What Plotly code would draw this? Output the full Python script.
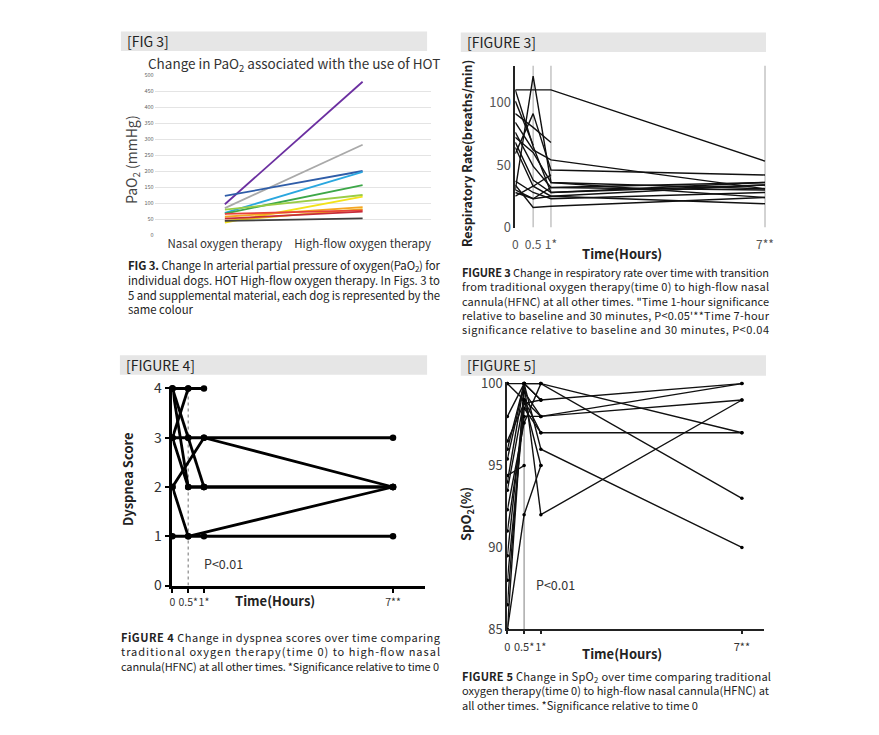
import json
import plotly.graph_objects as go

W, H = 879, 735

# ---------------- FIG 3 : PaO2 ----------------
pao2_categories = ["Nasal oxygen therapy", "High-flow oxygen therapy"]
pao2_nasal = [97, 85, 123, 70, 68, 80, 40, 58, 45, 67, 52, 45]
pao2_high_flow = [480, 283, 201, 198, 157, 126, 121, 88, 82, 78, 74, 53]
pao2_colors = ["#6b2fa0", "#a9a9a9", "#2f5da8", "#2aa7df", "#3da748", "#9acd45",
               "#f2e21a", "#f5a623", "#f0c419", "#e8413c", "#c62c3a", "#404040"]
pao2_yticks = [0, 50, 100, 150, 200, 250, 300, 350, 400, 450, 500]

# ---------------- FIGURE 3 : respiratory rate ----------------
rr_times = [0, 0.5, 1, 7]
rr_ticktext = ["0", "0.5", "1*", "7**"]
rr_yticks = [0, 50, 100]
rr_dog_01 = [110, 110, 110, 53]
rr_dog_02 = [30, 121, 36, 31]
rr_dog_03 = [91, 80, 68, None]
rr_dog_04 = [59, 91, 46, 42]
rr_dog_05 = [110, 65, 28, 34]
rr_dog_06 = [84, 62, 54, 31]
rr_dog_07 = [76, 49, 32, 30]
rr_dog_08 = [72, 60, 36, 24]
rr_dog_09 = [68, 38, 28, 36]
rr_dog_10 = [64, 33, 25, 34]
rr_dog_11 = [37, 28, 23, 28]
rr_dog_12 = [34, 16, 17, 24]
rr_dog_13 = [30, 23, 25, 19]
rr_dog_14 = [28, 23, 32, 36]
rr_dog_15 = [25, 33, 42, None]
rr_dog_16 = [101, 66, None, None]
rr_dogs = [rr_dog_01, rr_dog_02, rr_dog_03, rr_dog_04, rr_dog_05, rr_dog_06, rr_dog_07, rr_dog_08,
           rr_dog_09, rr_dog_10, rr_dog_11, rr_dog_12, rr_dog_13, rr_dog_14, rr_dog_15, rr_dog_16]

# ---------------- FIGURE 4 : dyspnea score ----------------
ds_times = [0, 0.5, 1, 7]
ds_ticktext = ["0", "0.5*", "1*", "7**"]
ds_yticks = [0, 1, 2, 3, 4]
ds_dog_1 = [4, 4, 4, None]
ds_dog_2 = [4, 2, 2, 2]
ds_dog_3 = [4, 3, 2, None]
ds_dog_4 = [3, 4, None, None]
ds_dog_5 = [2, None, 3, 2]
ds_dog_6 = [2, 1, None, 2]
ds_dog_7 = [3, 3, 3, 3]
ds_dog_8 = [1, 1, 1, 1]
ds_dog_9 = [3, 2, 2, 2]
ds_dogs = [ds_dog_1, ds_dog_2, ds_dog_3, ds_dog_4, ds_dog_5, ds_dog_6, ds_dog_7, ds_dog_8, ds_dog_9]
ds_connect = [False, False, False, False, True, True, False, False, False]

# ---------------- FIGURE 5 : SpO2 ----------------
sp_times = [0, 0.5, 1, 7]
sp_ticktext = ["0", "0.5*", "1*", "7**"]
sp_yticks = [85, 90, 95, 100]
sp_dog_01 = [100, 100, 100, 97]
sp_dog_02 = [85, 100, 99, 100]
sp_dog_03 = [86.5, 99.5, 98, 99]
sp_dog_04 = [88, 98.5, 97, 97]
sp_dog_05 = [94, 100, 96, 90]
sp_dog_06 = [98, 100, 92, 99]
sp_dog_07 = [96, 100, 100, 93]
sp_dog_08 = [94.4, 95, None, None]
sp_dog_09 = [93.5, 99, 95, None]
sp_dog_10 = [91, 98, 98, 100]
sp_dog_11 = [92.3, 97.6, 100, None]
sp_dog_12 = [96.5, 98.8, 99, None]
sp_dog_13 = [85, 92, 95, None]
sp_dog_14 = [89.5, 99, 97, None]
sp_dog_15 = [95.4, 100, 99, None]
sp_dog_16 = [100, 99, 98, None]
sp_dogs = [sp_dog_01, sp_dog_02, sp_dog_03, sp_dog_04, sp_dog_05, sp_dog_06, sp_dog_07, sp_dog_08,
           sp_dog_09, sp_dog_10, sp_dog_11, sp_dog_12, sp_dog_13, sp_dog_14, sp_dog_15, sp_dog_16]


def dx(a, b):
    return [a / W, b / W]


def dy(top, bottom):
    return [1 - bottom / H, 1 - top / H]


FONT = "Noto Sans CJK KR, Noto Sans, sans-serif"
fig = go.Figure()

for i, (a, b) in enumerate(zip(pao2_nasal, pao2_high_flow)):
    fig.add_trace(go.Scatter(x=pao2_categories, y=[a, b], mode="lines",
                             line=dict(color=pao2_colors[i], width=1.8),
                             xaxis="x", yaxis="y", name=f"Dog {i+1}"))

for i, d in enumerate(rr_dogs):
    fig.add_trace(go.Scatter(x=rr_times, y=d, mode="lines",
                             line=dict(color="#111111", width=1.4),
                             xaxis="x2", yaxis="y2", name=f"Dog {i+1}"))

for i, d in enumerate(ds_dogs):
    fig.add_trace(go.Scatter(x=ds_times, y=d, mode="lines+markers", connectgaps=ds_connect[i],
                             line=dict(color="#000000", width=2.8),
                             marker=dict(color="#000000", size=6.5), cliponaxis=False,
                             xaxis="x3", yaxis="y3", name=f"Dog {i+1}"))

for i, d in enumerate(sp_dogs):
    fig.add_trace(go.Scatter(x=sp_times, y=d, mode="lines+markers",
                             line=dict(color="#111111", width=1.4),
                             marker=dict(color="#000000", size=3.5), cliponaxis=False,
                             xaxis="x4", yaxis="y4", name=f"Dog {i+1}"))

shapes = []
for (x0, y0, x1, y1) in [(119, 23, 428, 43), (462, 24, 770, 44), (118, 355, 428, 375), (462, 355, 770, 376)]:
    shapes.append(dict(type="rect", xref="paper", yref="paper", x0=x0 / W, x1=x1 / W,
                       y0=1 - y1 / H, y1=1 - y0 / H, fillcolor="#e6e6e6", line=dict(width=0), layer="below"))

for t in [0.5, 1, 7]:
    shapes.append(dict(type="line", xref="x2", yref="y2", x0=t, x1=t, y0=0, y1=129.4,
                       line=dict(color="#b5b5b5", width=1.2), layer="below"))
shapes.append(dict(type="line", xref="x3", yref="y3", x0=0.5, x1=0.5, y0=0, y1=4,
                   line=dict(color="#888888", width=1.2, dash="dot"), layer="below"))
shapes.append(dict(type="line", xref="x4", yref="y4", x0=0.5, x1=0.5, y0=85, y1=100,
                   line=dict(color="#aaaaaa", width=1.5), layer="below"))

ann = []
justify = {}


def text(px, py, s, size, color="#222", bold=False, xanchor="center", yanchor="middle", angle=0,
         widths=None):
    if bold:
        s = f"<b>{s}</b>"
    if widths is not None:
        justify[str(len(ann))] = widths
    ann.append(dict(x=px / W, y=1 - py / H, xref="paper", yref="paper", text=s, showarrow=False,
                    font=dict(family=FONT, size=size, color=color), xanchor=xanchor, yanchor=yanchor,
                    textangle=angle, align="left" if xanchor == "left" else "center", borderpad=0))


def caption(px, py_first, spacing, lines):
    size = spacing / 1.3
    n = len(lines)
    center = py_first + spacing * (n - 1) / 2
    text(px, center, "<br>".join(s for s, _ in lines), size, "#222", xanchor="left",
         widths=[w for _, w in lines])


# headers
text(124, 33, "[FIG 3]", 14, "#222", xanchor="left")
text(467, 34, "[FIGURE 3]", 14, "#222", xanchor="left")
text(123, 365, "[FIGURE 4]", 14, "#222", xanchor="left")
text(467, 365, "[FIGURE 5]", 14, "#222", xanchor="left")

# panel 1 texts
text(294, 56, "Change in PaO<sub>2</sub> associated with the use of HOT", 13.5, "#333")
text(130, 154, "PaO<sub>2</sub> (mmHg)", 14, "#444", angle=-90)

# panel 2 texts
text(625, 251, "Time(Hours)", 13, "#222", bold=True)
text(468, 148, "Respiratory Rate(breaths/min)", 12.5, "#222", bold=True, angle=-90)

# panel 3 texts
text(275, 606, "Time(Hours)", 13, "#222", bold=True)
text(125, 482, "Dyspnea Score", 13, "#222", bold=True, angle=-90)
text(223, 568, "P&lt;0.01", 12.5, "#333")

# panel 4 texts
text(625, 661, "Time(Hours)", 13, "#222", bold=True)
text(468, 518, "SpO<sub>2</sub>(%)", 13, "#222", bold=True, angle=-90)
text(558, 590, "P&lt;0.01", 12.5, "#333")

caption(125, 262.5, 14.8, [
    ("<b>FIG 3.</b> Change In arterial partial pressure of oxygen(PaO<sub>2</sub>) for", 312),
    ("individual dogs. HOT High-flow oxygen therapy. In Figs. 3 to", 312),
    ("5 and supplemental material, each dog is represented by the", 312),
    ("same colour", None)])

caption(462, 270.5, 14.3, [
    ("<b>FIGURE 3</b> Change in respiratory rate over time with transition", 307),
    ("from traditional oxygen therapy(time 0) to high-flow nasal", 307),
    ("cannula(HFNC) at all other times. \"Time 1-hour significance", 307),
    ("relative to baseline and 30 minutes, P&lt;0.05'**Time 7-hour", 307),
    ("significance relative to baseline and 30 minutes, P&lt;0.04", 307)])

caption(118, 644, 14.3, [
    ("<b>FiGURE 4</b> Change in dyspnea scores over time comparing", 319),
    ("traditional oxygen therapy(time 0) to high-flow nasal", 319),
    ("cannula(HFNC) at all other times. *Significance relative to time 0", 318)])

caption(462, 684, 14.4, [
    ("<b>FIGURE 5</b> Change in SpO<sub>2</sub> over time comparing traditional", 309),
    ("oxygen therapy(time 0) to high-flow nasal cannula(HFNC) at", 307),
    ("all other times. *Significance relative to time 0", None)])

tickfont = dict(family=FONT, color="#444")

fig.update_layout(
    width=W, height=H, margin=dict(l=0, r=0, t=0, b=0),
    paper_bgcolor="white", plot_bgcolor="white", showlegend=False,
    shapes=shapes, annotations=ann,
    xaxis=dict(domain=dx(153, 432), anchor="y", type="category", range=[-0.51, 1.497], showgrid=False,
               showline=False, zeroline=False, tickangle=0, tickfont=dict(tickfont, size=11.5, color="#333")),
    yaxis=dict(domain=dy(68, 232), anchor="x", range=[0, 500], tickvals=pao2_yticks, showgrid=True,
               gridcolor="#e4e4e4", gridwidth=1, zeroline=False, showline=False,
               tickfont=dict(tickfont, size=5.5, color="#666")),
    xaxis2=dict(domain=dx(517, 772.6), anchor="y2", range=[0, 7.1], tickvals=rr_times, ticktext=rr_ticktext,
                showgrid=False, zeroline=False, showline=False, ticklabelstandoff=8, tickangle=0,
                tickfont=dict(tickfont, size=12, color="#555")),
    yaxis2=dict(domain=dy(58, 224), anchor="x2", range=[0, 129.4], tickvals=rr_yticks, showgrid=False,
                zeroline=False, showline=True, linecolor="#222", linewidth=1.5,
                tickfont=dict(tickfont, size=13, color="#555")),
    xaxis3=dict(domain=dx(171, 425.4), anchor="y3", range=[0, 8.0], tickvals=ds_times, ticktext=ds_ticktext,
                showgrid=False, zeroline=False, showline=True, linecolor="#000", linewidth=2.5,
                ticks="outside", ticklen=5, tickwidth=2, tickcolor="#000", tickangle=0,
                tickfont=dict(tickfont, size=10.5, color="#333")),
    yaxis3=dict(domain=dy(387, 591), anchor="x3", range=[0, 4.04], tickvals=ds_yticks, showgrid=False,
                zeroline=False, showline=True, linecolor="#000", linewidth=2.5,
                ticks="outside", ticklen=5, tickwidth=2, tickcolor="#000",
                tickfont=dict(tickfont, size=14, color="#333")),
    xaxis4=dict(domain=dx(509, 768), anchor="y4", range=[0, 7.66], tickvals=sp_times, ticktext=sp_ticktext,
                showgrid=False, zeroline=False, showline=True, linecolor="#222", linewidth=2,
                ticks="outside", ticklen=3, tickwidth=1.5, tickcolor="#222", tickangle=0,
                ticklabelstandoff=3, tickfont=dict(tickfont, size=11, color="#333")),
    yaxis4=dict(domain=dy(382, 636), anchor="x4", range=[85, 100.12], tickvals=sp_yticks, showgrid=False,
                zeroline=False, showline=True, linecolor="#222", linewidth=2,
                tickfont=dict(tickfont, size=13, color="#444")),
)

post = """
document.body.style.margin='0';
var JUST = %s;
function justifyCaptions(){
  document.querySelectorAll('g.annotation').forEach(function(g){
    var i = g.getAttribute('data-index');
    var ws = JUST[i];
    if (ws === undefined) { return; }
    var t = g.querySelector('text.annotation-text');
    if (!t) { return; }
    var lines = t.querySelectorAll('tspan.line');
    lines.forEach(function(ln, k){
      if (ws[k] !== null && ws[k] !== undefined) {
        ln.setAttribute('textLength', ws[k]);
        ln.setAttribute('lengthAdjust', 'spacing');
      }
    });
  });
}
justifyCaptions();
var gd = document.getElementById('{plot_id}');
if (gd && gd.on) { gd.on('plotly_afterplot', justifyCaptions); }
""" % json.dumps(justify)

fig.write_html("out.html", config={"displayModeBar": False}, post_script=post)
